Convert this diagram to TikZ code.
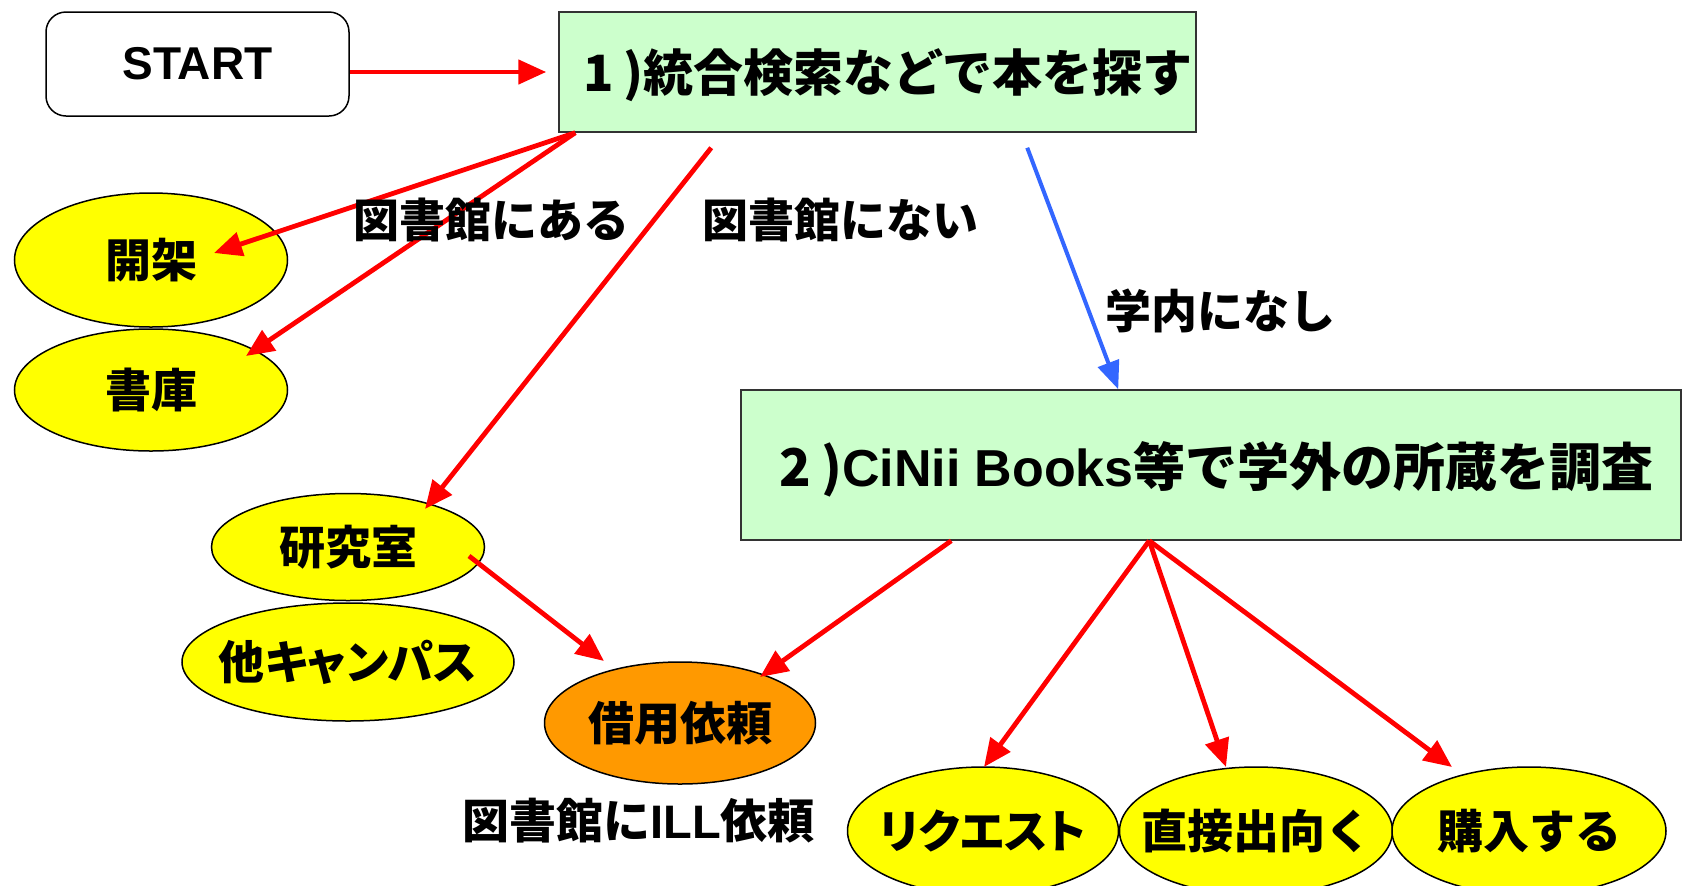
\documentclass[tikz,border=0pt]{standalone}
\usepackage{fontspec}
\newfontfamily\jp{Noto Sans CJK JP}
\newfontfamily\lat{Liberation Sans}
\usetikzlibrary{shapes.geometric,arrows.meta,calc}
\definecolor{boxgreen}{HTML}{CCFFCC}
\definecolor{ellyellow}{HTML}{FFFF00}
\definecolor{ellorange}{HTML}{FF9900}
\definecolor{arrblue}{HTML}{3366FF}
\newcommand{\zw}[1]{\makebox[0pt]{#1}}
\newcommand{\pkana}[1]{{\addfontfeature{RawFeature=+palt}#1}}
\begin{document}
\begin{tikzpicture}[x=0.5pt,y=-0.5pt,
  startbox/.style={draw=black, line width=0.75pt, rounded corners=10pt, fill=white, inner sep=0pt, font=\lat\bfseries\fontsize{23}{23}\selectfont},
  flowbox/.style={draw=black!80, line width=0.75pt, fill=boxgreen, inner sep=0pt},
  bigtext/.style={inner sep=0pt, font=\jp\bfseries\fontsize{25}{25}\selectfont},
  lbl/.style={inner sep=0pt, font=\jp\bfseries\fontsize{23}{23}\selectfont},
  ell/.style={ellipse, draw=black, line width=0.75pt, fill=ellyellow, inner sep=0pt, font=\jp\bfseries\fontsize{23}{23}\selectfont},
  arr/.style={draw=red, line width=2.4pt, -{Triangle[length=14pt,width=12pt,fill=red]}},
  barr/.style={draw=arrblue, line width=2pt, -{Triangle[length=14pt,width=11pt,fill=arrblue]}}
]
\useasboundingbox (0,0) rectangle (1683,885);
\fill[white] (0,0) rectangle (1683,885);

% boxes
\node[startbox, minimum width=151.5pt, minimum height=52pt] (start) at (197.5,64) {START};
\node[flowbox, minimum width=318.5pt, minimum height=60pt] (b1) at (877.5,72) {};
\node[flowbox, minimum width=470pt, minimum height=75pt] (b2) at (1211,465) {};

% ellipses
\node[ell, minimum width=136.5pt, minimum height=67pt] (kaika) at (151,260) {\zw{開架}};
\node[ell, minimum width=136.5pt, minimum height=61pt] (shoko) at (151,390) {\zw{書庫}};
\node[ell, minimum width=136.5pt, minimum height=53.5pt] (kenkyu) at (348,547) {\zw{研究室}};
\node[ell, minimum width=166pt, minimum height=59pt] (tacamp) at (348,662) {\zw{\pkana{他キャンパス}}};
\node[ell, fill=ellorange, minimum width=135.5pt, minimum height=61pt] (shaku) at (680,723) {\zw{借用依頼}};
\node[ell, minimum width=135.5pt, minimum height=64pt] (req) at (983,831) {\zw{\pkana{リクエスト}}};
\node[ell, minimum width=136.5pt, minimum height=64pt] (direct) at (1256,831) {\zw{直接出向く}};
\node[ell, minimum width=137pt, minimum height=64pt] (buy) at (1529,831) {\zw{購入する}};

% arrows
\draw[arr] (start.east |- b1.west) -- ($(b1.west)+(-12,0)$);
\draw[arr] ($(b1.south west)+(17,0)$) -- ($(kaika.center)+(63,-7)$);
\draw[arr] ($(b1.south west)+(17,0)$) -- ($(shoko.center)+(95,-34)$);
\draw[arr] ($(b1.south west)+(153,15)$) -- ($(kenkyu.center)+(77,-38)$);
\draw[arr] ($(kenkyu.center)+(121,9)$) -- ($(shaku.center)+(-76,-62)$);
\draw[arr] ($(b2.south west)+(211,0)$) -- ($(shaku.center)+(80,-46)$);
\draw[barr] ($(b1.south west)+(469,15)$) -- ($(b2.north west)+(378,0)$);
\draw[arr] ($(b2.south west)+(409,0)$) -- ($(req.center)+(1,-64)$);
\draw[arr] ($(b2.south west)+(409,0)$) -- ($(direct.center)+(-30,-64)$);
\draw[arr] ($(b2.south west)+(409,0)$) -- ($(buy.center)+(-77,-64)$);

% texts
\node[bigtext, anchor=west] (t1) at (583,75) {1\hspace{0.2em})統合検索などで本を探す};
\node[bigtext, font=\jp\bfseries\fontsize{26}{26}\selectfont] (t2) at (1216.5,469) {2\hspace{0.2em}){\lat CiNii Books}等で学外の所蔵を調査};
\node[lbl] (l1) at (491,220) {図書館にある};
\node[lbl] (l2) at (840,220) {図書館にない};
\node[lbl] (l3) at (1220,311) {学内になし};
\node[lbl, font=\jp\bfseries\fontsize{23.5}{23.5}\selectfont] (l4) at (638.5,821) {図書館に{\lat ILL}依頼};
\end{tikzpicture}
\end{document}
